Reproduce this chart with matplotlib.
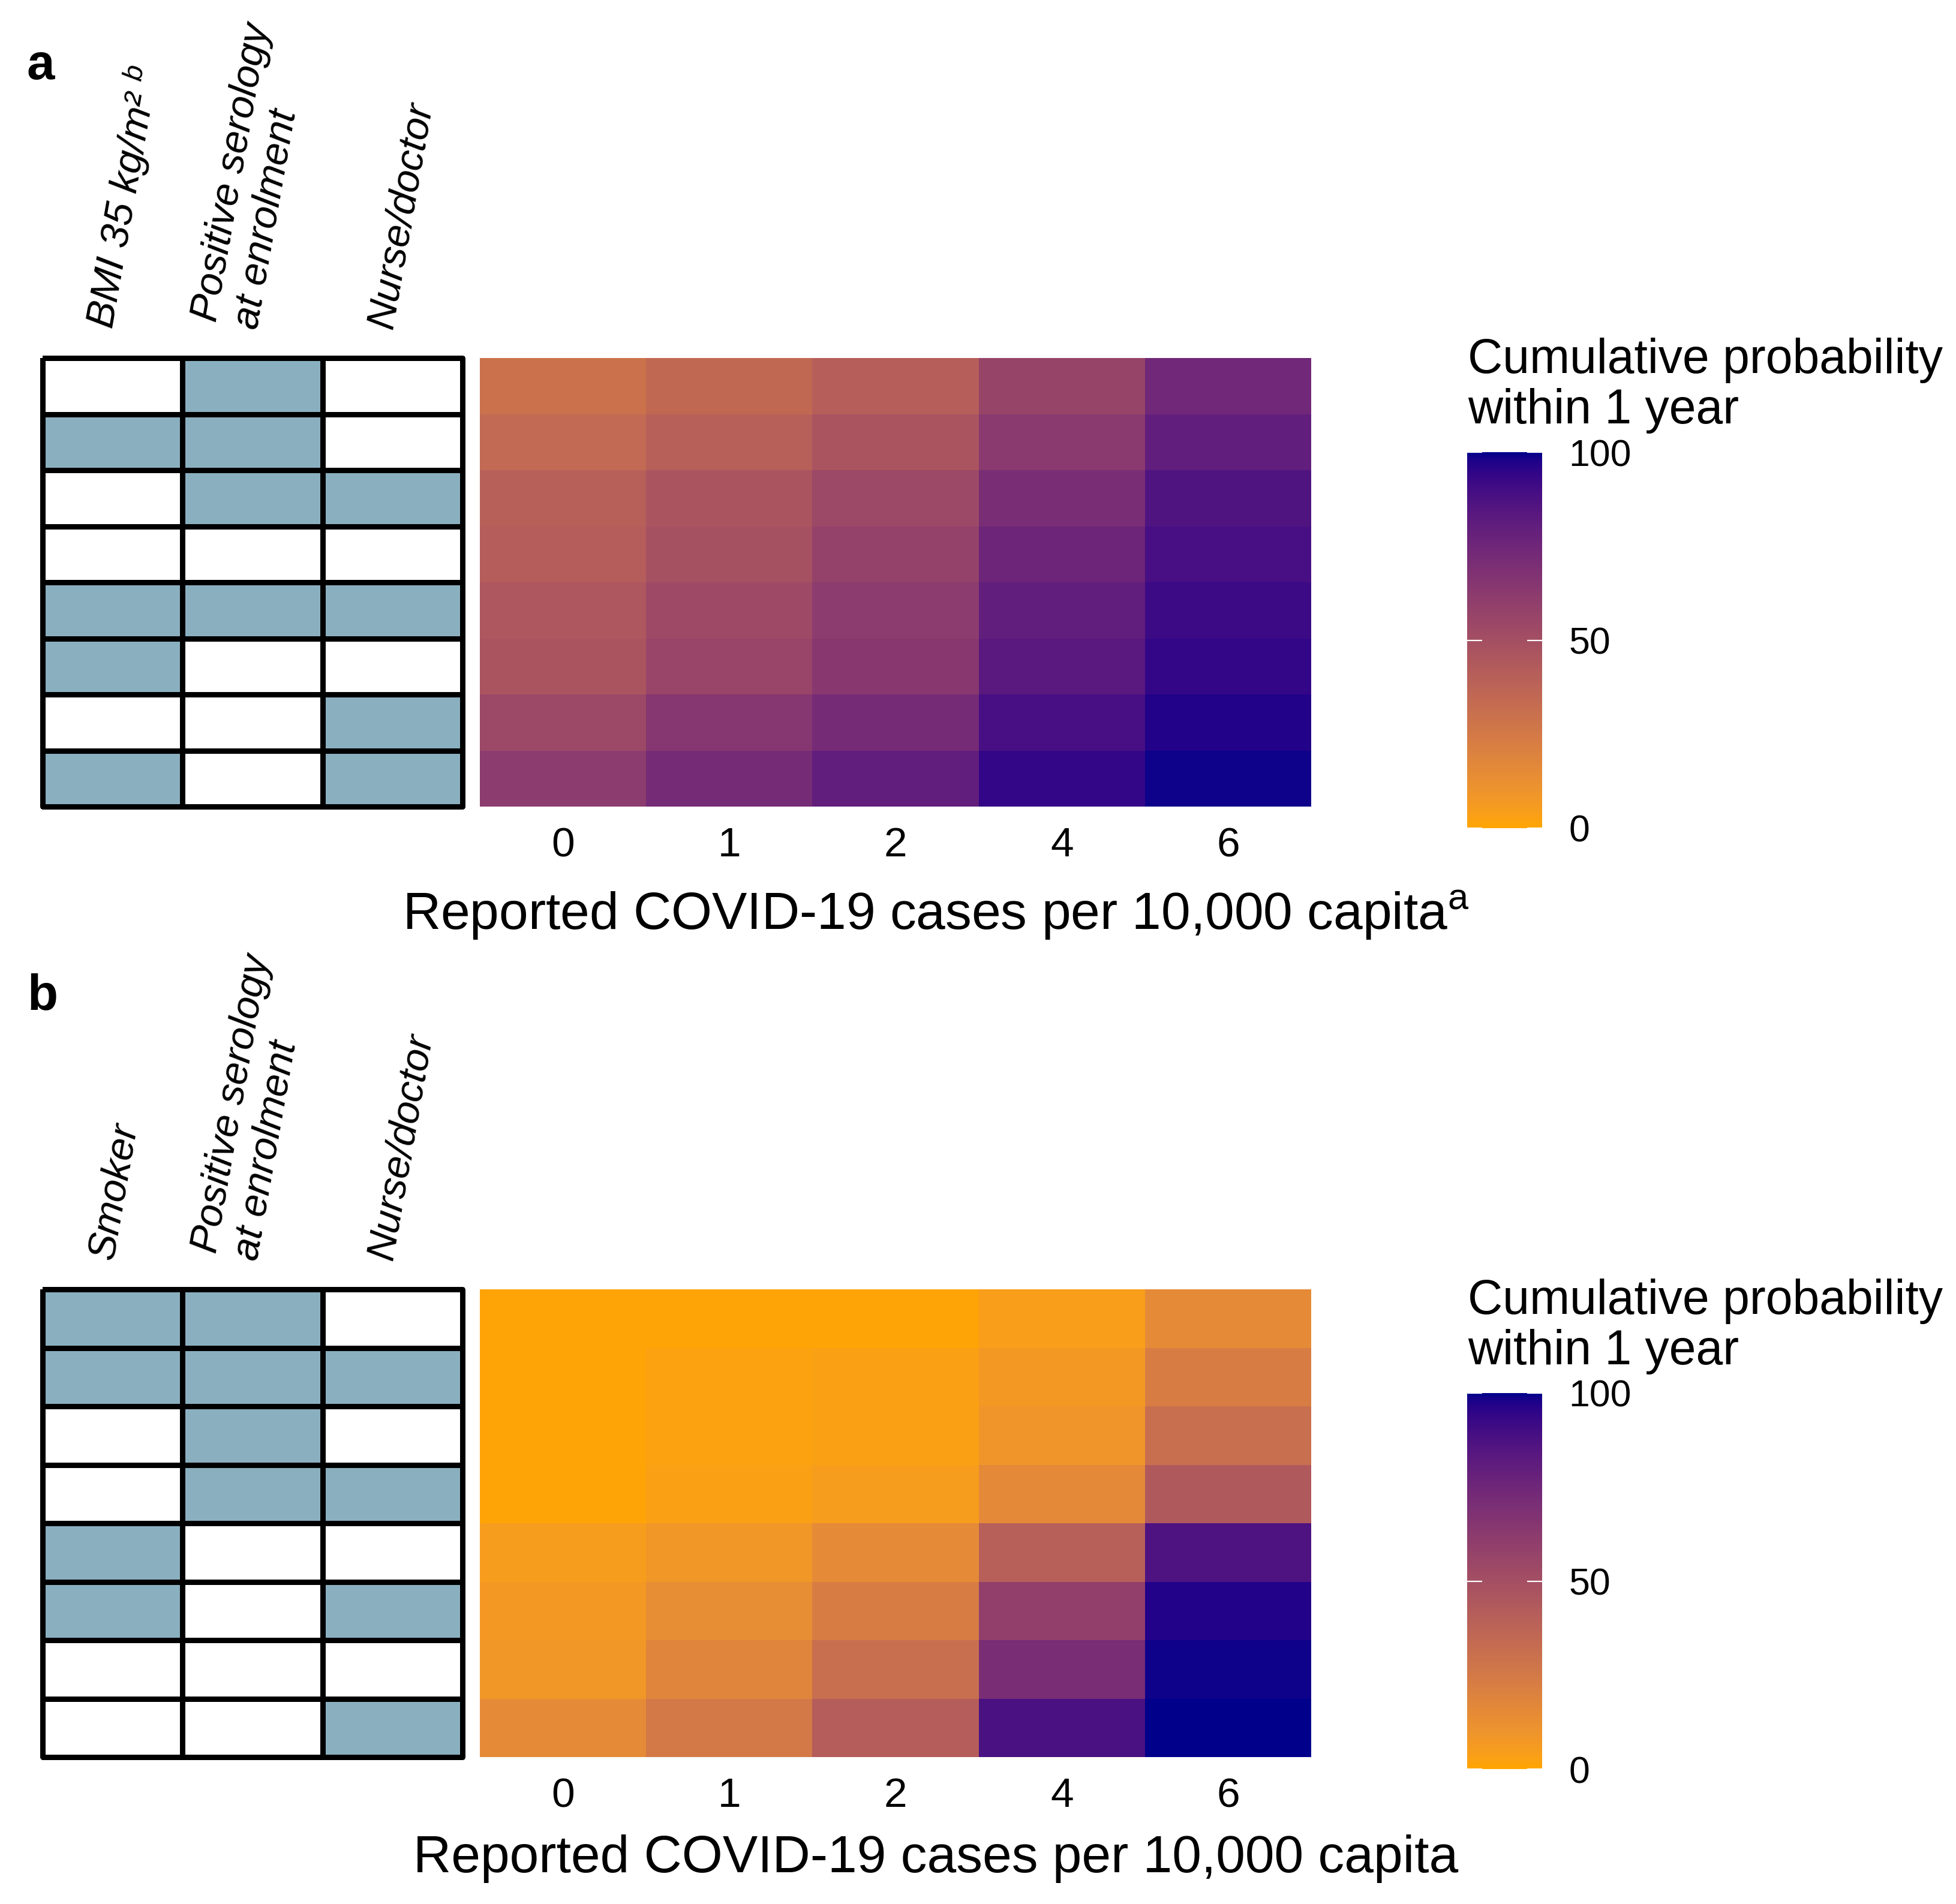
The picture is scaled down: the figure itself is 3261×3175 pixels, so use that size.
import numpy as np
import matplotlib
matplotlib.use('Agg')
import matplotlib.pyplot as plt
from matplotlib.colors import ListedColormap, to_rgb

plt.rcParams['font.family'] = ['Liberation Sans', 'DejaVu Sans']
plt.rcParams['mathtext.fontset'] = 'custom'
plt.rcParams['mathtext.rm'] = 'Liberation Sans'
plt.rcParams['mathtext.it'] = 'Liberation Sans:italic'

# ---- data ----
case_levels = ['0', '1', '2', '4', '6']

factors_a = ['BMI 35 kg/m² $^{b}$', 'Positive serology\nat enrolment', 'Nurse/doctor']
profile_a = [[0, 1, 0],
             [1, 1, 0],
             [0, 1, 1],
             [0, 0, 0],
             [1, 1, 1],
             [1, 0, 0],
             [0, 0, 1],
             [1, 0, 1]]
# cumulative probability (%) within 1 year, rows as above, cols = case levels
prob_a = [[29, 35, 41, 57, 74],
          [34, 40, 47, 63, 80],
          [40, 47, 54, 71, 86],
          [42, 49, 58, 76, 89],
          [45, 53, 62, 80, 92],
          [47, 56, 64, 83, 94],
          [54, 65, 72, 89, 97],
          [62, 72, 80, 94, 99]]

factors_b = ['Smoker', 'Positive serology\nat enrolment', 'Nurse/doctor']
profile_b = [[1, 1, 0],
             [1, 1, 1],
             [0, 1, 0],
             [0, 1, 1],
             [1, 0, 0],
             [1, 0, 1],
             [0, 0, 0],
             [0, 0, 1]]
prob_b = [[1, 1, 1, 4, 15],
          [1, 2, 3, 7, 23],
          [1, 2, 3, 9, 31],
          [1, 3, 5, 16, 44],
          [5, 8, 15, 40, 87],
          [7, 14, 23, 59, 97],
          [8, 18, 31, 71, 99],
          [15, 25, 42, 88, 100]]

xlabel_a = r'Reported COVID-19 cases per 10,000 capita$^\mathrm{a}$'
xlabel_b = 'Reported COVID-19 cases per 10,000 capita'
legend_title = 'Cumulative probability\nwithin 1 year'


# ---- orange -> darkblue gradient interpolated in Lab (like ggplot) ----
WHITE = np.array([0.95047, 1.0, 1.08883])
M = np.array([[0.4124, 0.3576, 0.1805],
              [0.2126, 0.7152, 0.0722],
              [0.0193, 0.1192, 0.9505]])


def to_lab(c):
    c = np.array(c)
    lin = np.where(c > 0.04045, ((c + 0.055) / 1.055) ** 2.4, c / 12.92)
    xyz = M @ lin / WHITE
    f = np.where(xyz > 0.008856, np.cbrt(xyz), 7.787 * xyz + 16 / 116)
    return np.array([116 * f[1] - 16, 500 * (f[0] - f[1]), 200 * (f[1] - f[2])])


def from_lab(lab):
    fy = (lab[0] + 16) / 116
    f = np.array([fy + lab[1] / 500, fy, fy - lab[2] / 200])
    xyz = np.where(f > 0.2069, f ** 3, (f - 16 / 116) / 7.787) * WHITE
    lin = np.linalg.solve(M, xyz)
    lin = np.clip(lin, 0, 1)
    c = np.where(lin > 0.0031308, 1.055 * lin ** (1 / 2.4) - 0.055, 12.92 * lin)
    return np.clip(c, 0, 1)


lo, hi = to_lab(to_rgb('orange')), to_lab(to_rgb('darkblue'))
cmap = ListedColormap([from_lab(lo + (hi - lo) * t) for t in np.linspace(0, 1, 256)])
tile_cmap = ListedColormap(['white', '#8AB0C0'])

W, H = 3262, 3175
fig = plt.figure(figsize=(W / 200, H / 200), dpi=200)


def rect(x0, y0, x1, y1):
    return [x0 / W, 1 - y1 / H, (x1 - x0) / W, (y1 - y0) / H]


def panel(letter, letter_y, factors, profile, prob, xlabel, top, bottom, cb_top, xlab_y):
    fig.text(45 / W, 1 - letter_y / H, letter, fontsize=30, fontweight='bold', va='baseline')

    # factor tiles
    ax = fig.add_axes(rect(71, top, 771, bottom))
    tiles = ax.pcolormesh(np.array(profile), cmap=tile_cmap, vmin=0, vmax=1,
                          edgecolors='black', linewidth=2.6)
    tiles.set_clip_on(False)
    ax.set_xlim(0, 3)
    ax.set_ylim(len(profile), 0)
    ax.xaxis.tick_top()
    ax.set_xticks(np.arange(len(factors)) + 0.5)
    ax.set_xticklabels(factors, rotation=80, rotation_mode='anchor', ha='left', va='baseline',
                       fontstyle='italic', fontsize=24, linespacing=1.15)
    ax.tick_params(axis='x', length=0, pad=17)
    ax.set_yticks([])
    for s in ax.spines.values():
        s.set_visible(False)

    # heatmap
    hx = fig.add_axes(rect(800, top, 2186, bottom))
    mesh = hx.pcolormesh(np.array(prob), cmap=cmap, vmin=0, vmax=100)
    hx.set_ylim(len(prob), 0)
    hx.set_xticks(np.arange(len(case_levels)) + 0.5)
    hx.set_xticklabels(case_levels, fontsize=25)
    hx.tick_params(axis='x', length=0, pad=12)
    hx.set_yticks([])
    for s in hx.spines.values():
        s.set_visible(False)
    fig.text(1560 / W, 1 - xlab_y / H, xlabel, fontsize=31.5, ha='center', va='baseline')

    # colour bar
    cax = fig.add_axes(rect(2446, cb_top, 2571, cb_top + 627))
    cb = fig.colorbar(mesh, cax=cax, ticks=[0, 50, 100])
    cb.outline.set_visible(False)
    cax.tick_params(color='white', direction='in', length=9, width=0.8,
                    left=True, right=True, labelsize=22.5, pad=16)
    fig.text(2447 / W, 1 - (cb_top - 191) / H, legend_title, fontsize=29, ha='left', va='top',
             linespacing=1.13)


panel('a', 132, factors_a, profile_a, prob_a, xlabel_a, 597, 1345, 754, 1550)
panel('b', 1683, factors_b, profile_b, prob_b, xlabel_b, 2150, 2930, 2323, 3122)

fig.savefig('out.png', dpi=200, facecolor='white')
